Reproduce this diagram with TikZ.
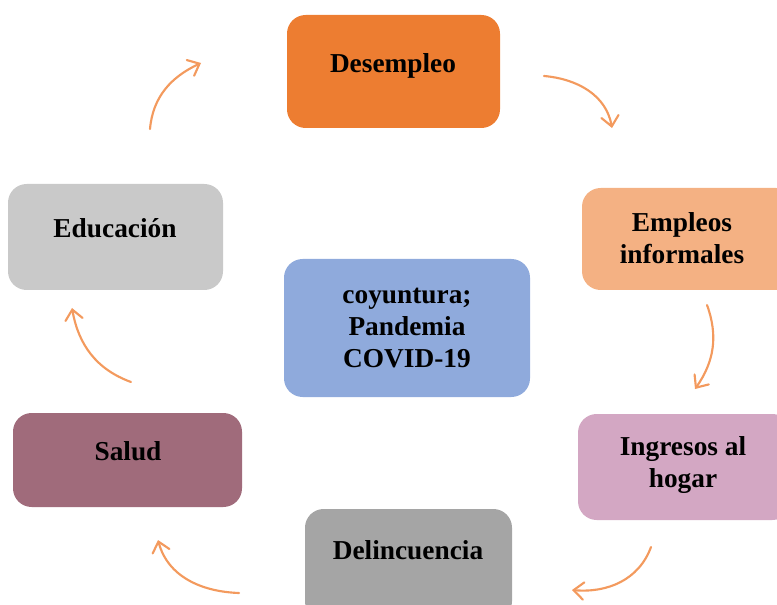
\documentclass[tikz,border=0pt]{standalone}
\usepackage{fontspec}
\setmainfont{Liberation Serif}
\usetikzlibrary{arrows.meta}
\definecolor{cDes}{HTML}{ED7D31}
\definecolor{cEmp}{HTML}{F4B183}
\definecolor{cIng}{HTML}{D3A7C3}
\definecolor{cDel}{HTML}{A5A5A5}
\definecolor{cSal}{HTML}{A06B7B}
\definecolor{cEdu}{HTML}{C9C9C9}
\definecolor{cCen}{HTML}{8FAADC}
\definecolor{cArr}{HTML}{F39A5E}
\begin{document}
\begin{tikzpicture}[x=0.75pt,y=0.75pt,
  box/.style={rounded corners=14pt, inner sep=0pt, draw=none},
  txt/.style={font=\fontsize{20.5}{24}\selectfont\bfseries, align=center, inner sep=0pt, anchor=base},
  cyc/.style={draw=cArr, line width=1.6pt, line cap=round, -{Straight Barb[length=7.5pt,width=13pt,line cap=round]}}]
\useasboundingbox (0,0) rectangle (777,-605);
% boxes
\node[box, fill=cDes, minimum width=159.75pt, minimum height=84.75pt] (des) at (393.5,-71.5) {};
\node[box, fill=cEmp, minimum width=159.75pt, minimum height=76.5pt] (emp) at (688.5,-239) {};
\node[box, fill=cIng, minimum width=159.75pt, minimum height=79.5pt] (ing) at (684.5,-467) {};
\node[box, fill=cDel, minimum width=155.25pt, minimum height=83.25pt] (del) at (408.5,-564.5) {};
\node[box, fill=cSal, minimum width=171.75pt, minimum height=70.5pt] (sal) at (127.5,-460) {};
\node[box, fill=cEdu, minimum width=161.25pt, minimum height=79.5pt] (edu) at (115.5,-237) {};
\node[box, fill=cCen, minimum width=184.5pt, minimum height=103.5pt] (cen) at (407,-328) {};
% texts (anchor=base is the baseline of the last line)
\node[txt] (tdes) at (393,-73) {Desempleo};
\node[txt] (temp) at (682,-264) {Empleos\\informales};
\node[txt] (ting) at (683,-487) {Ingresos al\\hogar};
\node[txt] (tdel) at (408,-559) {Delincuencia};
\node[txt] (tsal) at (128,-460) {Salud};
\node[txt] (tedu) at (115,-238) {Educación};
\node[txt] (tcen) at (407,-368) {coyuntura;\\Pandemia\\COVID-19};
% arrow end points
\coordinate (a1s) at (150,-129); \coordinate (a1e) at (201,-63);
\coordinate (a2s) at (544,-76);  \coordinate (a2e) at (612,-128);
\coordinate (a3s) at (707,-305); \coordinate (a3e) at (695,-389);
\coordinate (a4s) at (651,-547); \coordinate (a4e) at (572,-590);
\coordinate (a5s) at (239,-593); \coordinate (a5e) at (158,-540);
\coordinate (a6s) at (131,-382); \coordinate (a6e) at (72,-308);
% arrows
\draw[cyc] (a1s) to[out=85,in=205] (a1e);
\draw[cyc] (a2s) to[out=-5,in=100] (a2e);
\draw[cyc] (a3s) to[out=-70,in=55] (a3e);
\draw[cyc] (a4s) to[out=-110,in=-5] (a4e);
\draw[cyc] (a5s) to[out=178,in=-75] (a5e);
\draw[cyc] (a6s) to[out=160,in=-80] (a6e);
\end{tikzpicture}
\end{document}
